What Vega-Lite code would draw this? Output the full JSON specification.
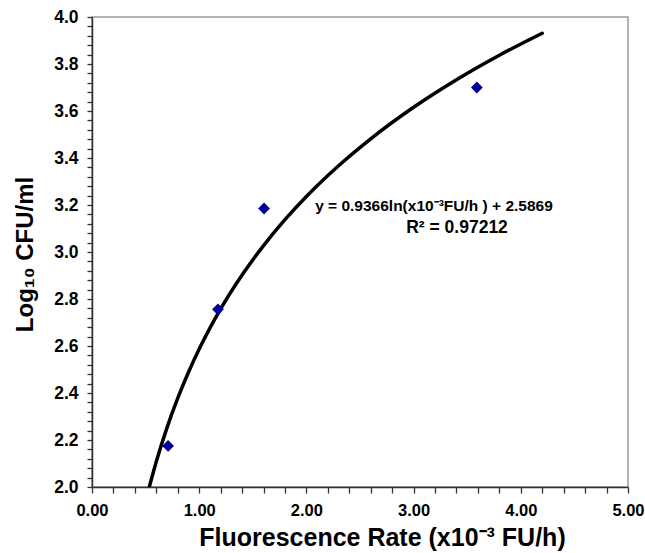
{
  "$schema": "https://vega.github.io/schema/vega-lite/v6.json",
  "width": 536,
  "height": 470,
  "autosize": {"type": "none"},
  "padding": {"left": 92, "top": 17, "right": 17, "bottom": 66},
  "background": "white",
  "config": {
    "view": {"stroke": "#999999", "strokeWidth": 1.5},
    "font": "Liberation Sans"
  },
  "datasets": {
    "points": [
      {"rate": 0.71, "logcfu": 2.175},
      {"rate": 1.175, "logcfu": 2.756},
      {"rate": 1.605, "logcfu": 3.185},
      {"rate": 3.59, "logcfu": 3.70}
    ],
    "fit": [
      {"rate": 0.534, "logcfu": 1.9993},
      {"rate": 0.6, "logcfu": 2.1085},
      {"rate": 0.7, "logcfu": 2.2528},
      {"rate": 0.8, "logcfu": 2.3779},
      {"rate": 0.9, "logcfu": 2.4882},
      {"rate": 1.0, "logcfu": 2.5869},
      {"rate": 1.2, "logcfu": 2.7577},
      {"rate": 1.4, "logcfu": 2.9020},
      {"rate": 1.6, "logcfu": 3.0271},
      {"rate": 1.8, "logcfu": 3.1374},
      {"rate": 2.0, "logcfu": 3.2361},
      {"rate": 2.3, "logcfu": 3.3670},
      {"rate": 2.6, "logcfu": 3.4818},
      {"rate": 3.0, "logcfu": 3.6159},
      {"rate": 3.4, "logcfu": 3.7331},
      {"rate": 3.8, "logcfu": 3.8373},
      {"rate": 4.2, "logcfu": 3.9310}
    ],
    "notes": [
      {"rate": 3.19, "logcfu": 3.197, "label": "y = 0.9366ln(x10⁻³FU/h ) + 2.5869", "size": 15.5},
      {"rate": 3.405, "logcfu": 3.104, "label": "R² = 0.97212", "size": 17.5}
    ]
  },
  "encoding": {
    "x": {
      "field": "rate", "type": "quantitative",
      "scale": {"domain": [0, 5], "nice": false, "zero": false},
      "axis": {
        "title": "Fluorescence Rate (x10⁻³ FU/h)",
        "titleFont": "Liberation Sans", "titleFontSize": 25, "titleFontWeight": "bold", "titleColor": "black",
        "titleX": 290, "titleY": 58, "titleBaseline": "alphabetic", "titleAnchor": "middle",
        "values": [0, 0.2, 0.4, 0.6, 0.8, 1, 1.2, 1.4, 1.6, 1.8, 2, 2.2, 2.4, 2.6, 2.8, 3, 3.2, 3.4, 3.6, 3.8, 4, 4.2, 4.4, 4.6, 4.8, 5],
        "labelExpr": "abs(datum.value - round(datum.value)) < 0.001 ? format(datum.value, '.2f') : ''",
        "labelOverlap": false, "labelBound": false, "labelFlush": false,
        "labelFont": "Liberation Sans", "labelFontSize": 16.5, "labelFontWeight": "bold", "labelColor": "black",
        "labelPadding": 9,
        "tickSize": 6, "tickColor": "#333333", "tickWidth": 1.3,
        "domainColor": "#333333", "domainWidth": 1.5,
        "grid": false
      }
    },
    "y": {
      "field": "logcfu", "type": "quantitative",
      "scale": {"domain": [2, 4], "nice": false, "zero": false},
      "axis": {
        "title": "Log₁₀ CFU/ml",
        "titleFont": "Liberation Sans", "titleFontSize": 24, "titleFontWeight": "bold", "titleColor": "black",
        "titleX": -60, "titleY": 237, "titleBaseline": "alphabetic", "titleAnchor": "middle", "titleAngle": -90,
        "values": [2, 2.04, 2.08, 2.12, 2.16, 2.2, 2.24, 2.28, 2.32, 2.36, 2.4, 2.44, 2.48, 2.52, 2.56, 2.6, 2.64, 2.68, 2.72, 2.76, 2.8, 2.84, 2.88, 2.92, 2.96, 3, 3.04, 3.08, 3.12, 3.16, 3.2, 3.24, 3.28, 3.32, 3.36, 3.4, 3.44, 3.48, 3.52, 3.56, 3.6, 3.64, 3.68, 3.72, 3.76, 3.8, 3.84, 3.88, 3.92, 3.96, 4],
        "labelExpr": "abs(datum.value * 5 - round(datum.value * 5)) < 0.001 ? format(datum.value, '.1f') : ''",
        "labelOverlap": false, "labelBound": false, "labelFlush": false,
        "labelFont": "Liberation Sans", "labelFontSize": 17.5, "labelFontWeight": "bold", "labelColor": "black",
        "labelPadding": 9,
        "tickSize": 5, "tickColor": "#333333", "tickWidth": 1.3,
        "domainColor": "#333333", "domainWidth": 1.5,
        "grid": false
      }
    }
  },
  "layer": [
    {
      "data": {"name": "fit"},
      "mark": {"type": "line", "color": "black", "strokeWidth": 3.5, "interpolate": "monotone", "clip": true, "strokeCap": "round"}
    },
    {
      "data": {"name": "points"},
      "mark": {"type": "point", "shape": "diamond", "filled": true, "color": "#000099", "size": 140, "opacity": 1}
    },
    {
      "data": {"name": "notes"},
      "mark": {"type": "text", "font": "Liberation Sans", "fontWeight": "bold", "color": "black", "align": "center", "baseline": "middle"},
      "encoding": {
        "text": {"field": "label"},
        "size": {"field": "size", "type": "quantitative", "scale": null, "legend": null}
      }
    }
  ]
}
